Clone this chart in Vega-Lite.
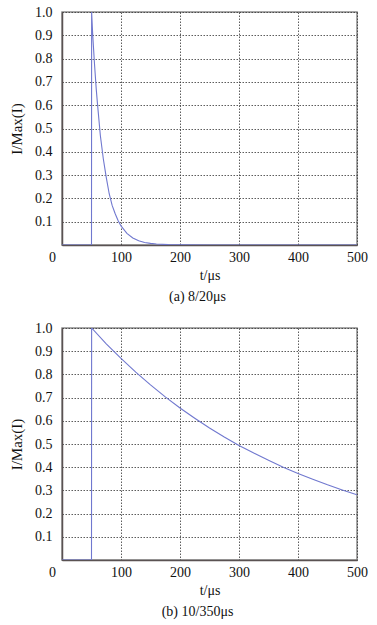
{
  "$schema": "https://vega.github.io/schema/vega-lite/v6.json",
  "background": "white",
  "padding": {"left": 8, "top": 4, "right": 15, "bottom": 5},
  "spacing": 15,
  "config": {
    "font": "Liberation Serif",
    "view": {"stroke": "#8c8c8c", "strokeWidth": 1.5},
    "axis": {
      "labelFont": "Liberation Serif",
      "labelFontSize": 14,
      "labelColor": "#111",
      "labelFlush": false,
      "titleFont": "Liberation Serif",
      "titleFontWeight": "normal",
      "titleFontSize": 14,
      "titleColor": "#111",
      "domainColor": "#5a5252",
      "domainWidth": 1.5,
      "ticks": false,
      "gridColor": "#333",
      "gridDash": [1.5, 1.5],
      "gridWidth": 0.8
    },
    "title": {"font": "Liberation Serif", "fontSize": 14, "fontWeight": "normal", "color": "#111"}
  },
  "vconcat": [
    {
      "width": 295,
      "height": 233,
      "title": {"text": "(a)  8/20μs", "orient": "bottom", "anchor": "middle", "offset": 8, "dx": -12},
      "data": {"values": [
        {"t": 0, "v": 0}, {"t": 50, "v": 0}, {"t": 50.2, "v": 1.0},
        {"t": 52, "v": 0.905}, {"t": 55, "v": 0.78}, {"t": 58, "v": 0.67},
        {"t": 60, "v": 0.61}, {"t": 65, "v": 0.47}, {"t": 70, "v": 0.37},
        {"t": 75, "v": 0.29}, {"t": 80, "v": 0.22}, {"t": 85, "v": 0.17},
        {"t": 90, "v": 0.135}, {"t": 95, "v": 0.105}, {"t": 100, "v": 0.082},
        {"t": 110, "v": 0.05}, {"t": 120, "v": 0.03}, {"t": 130, "v": 0.018},
        {"t": 140, "v": 0.011}, {"t": 150, "v": 0.007}, {"t": 160, "v": 0.004},
        {"t": 180, "v": 0.0015}, {"t": 200, "v": 0.0006}, {"t": 250, "v": 0},
        {"t": 500, "v": 0}
      ]},
      "mark": {"type": "line", "color": "#7078cf", "strokeWidth": 1.1, "clip": true},
      "encoding": {
        "x": {"field": "t", "type": "quantitative", "scale": {"domain": [0, 500], "nice": false},
          "axis": {"values": [0, 100, 200, 300, 400, 500], "title": "t/μs", "titleFontSize": 14, "titleFontWeight": "normal", "titlePadding": 4, "labelPadding": 5,
            "labelOffset": {"condition": {"test": "datum.value == 0", "value": -10}, "value": 0}}},
        "y": {"field": "v", "type": "quantitative", "scale": {"domain": [0, 1], "nice": false},
          "axis": {"values": [0, 0.1, 0.2, 0.3, 0.4, 0.5, 0.6, 0.7, 0.8, 0.9, 1.0], "title": "I/Max(I)", "titleFontSize": 15, "titleFontWeight": "normal", "titlePadding": 10, "labelPadding": 10,
            "labelExpr": "datum.value == 0 ? '' : format(datum.value, '.1f')"}}
      }
    },
    {
      "width": 295,
      "height": 232,
      "title": {"text": "(b)  10/350μs", "orient": "bottom", "anchor": "middle", "offset": 8, "dx": -12},
      "data": {"values": [
        {"t": 0, "v": 0}, {"t": 50, "v": 0}, {"t": 50.2, "v": 1.0},
        {"t": 75, "v": 0.932}, {"t": 100, "v": 0.869}, {"t": 125, "v": 0.81},
        {"t": 150, "v": 0.755}, {"t": 175, "v": 0.703}, {"t": 200, "v": 0.655},
        {"t": 225, "v": 0.611}, {"t": 250, "v": 0.569}, {"t": 275, "v": 0.53},
        {"t": 300, "v": 0.494}, {"t": 325, "v": 0.461}, {"t": 350, "v": 0.43},
        {"t": 375, "v": 0.4}, {"t": 400, "v": 0.373}, {"t": 425, "v": 0.348},
        {"t": 450, "v": 0.324}, {"t": 475, "v": 0.302}, {"t": 500, "v": 0.281}
      ]},
      "mark": {"type": "line", "color": "#7078cf", "strokeWidth": 1.1, "clip": true},
      "encoding": {
        "x": {"field": "t", "type": "quantitative", "scale": {"domain": [0, 500], "nice": false},
          "axis": {"values": [0, 100, 200, 300, 400, 500], "title": "t/μs", "titleFontSize": 14, "titleFontWeight": "normal", "titlePadding": 4, "labelPadding": 5,
            "labelOffset": {"condition": {"test": "datum.value == 0", "value": -10}, "value": 0}}},
        "y": {"field": "v", "type": "quantitative", "scale": {"domain": [0, 1], "nice": false},
          "axis": {"values": [0, 0.1, 0.2, 0.3, 0.4, 0.5, 0.6, 0.7, 0.8, 0.9, 1.0], "title": "I/Max(I)", "titleFontSize": 15, "titleFontWeight": "normal", "titlePadding": 10, "labelPadding": 10,
            "labelExpr": "datum.value == 0 ? '' : format(datum.value, '.1f')"}}
      }
    }
  ]
}
